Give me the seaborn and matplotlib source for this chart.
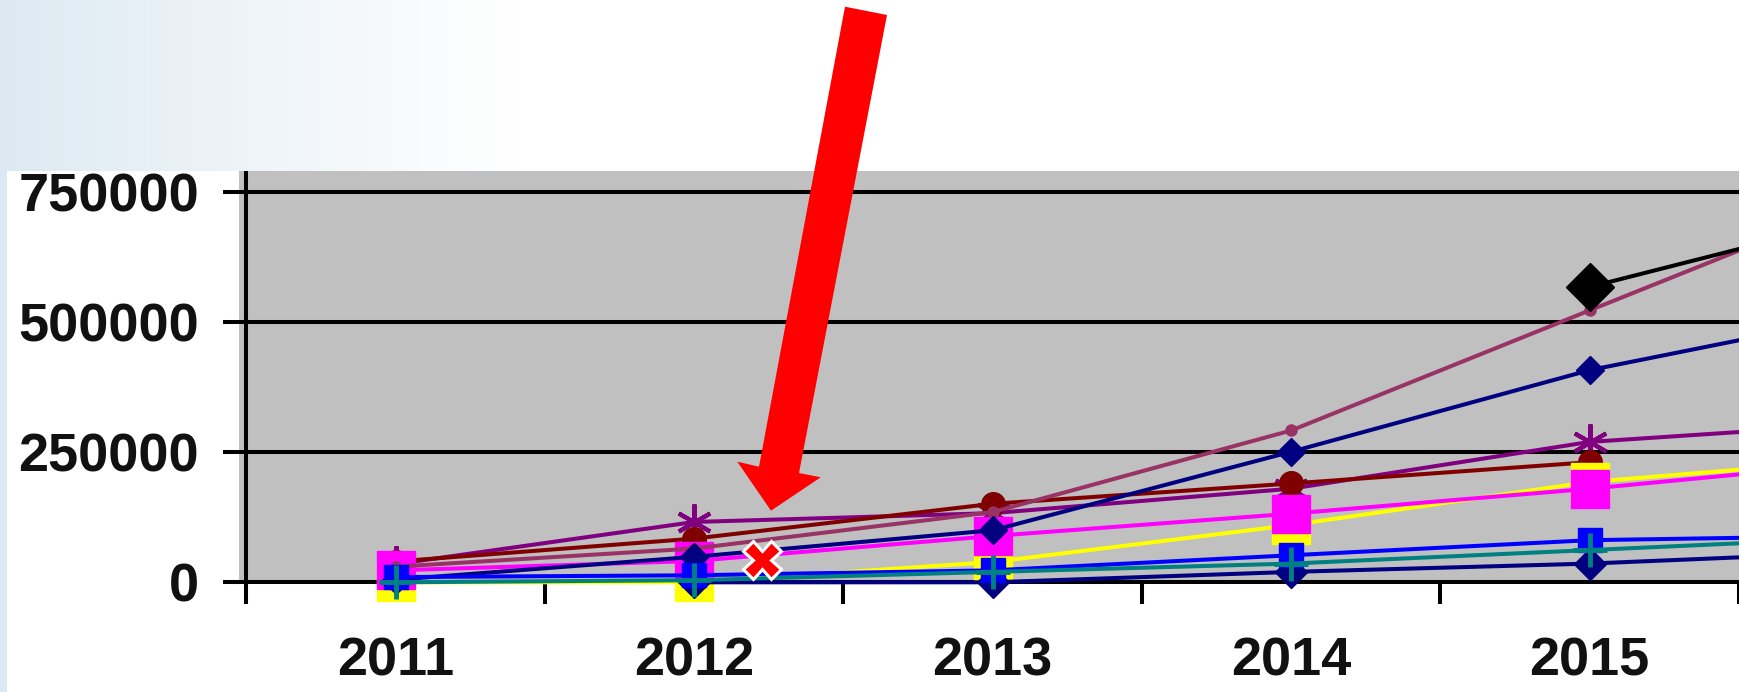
import numpy as np
import pandas as pd
import matplotlib
matplotlib.use("Agg")
import matplotlib.pyplot as plt
import seaborn as sns
from matplotlib.patches import Polygon, Rectangle
from matplotlib.lines import Line2D

nan = np.nan

# ---------------- data ----------------
years = [2011, 2012, 2013, 2014, 2015, 2016]
x_labels = ["2011", "2012", "2013", "2014", "2015"]
y_ticks = [0, 250000, 500000, 750000]
y_tick_labels = ["0", "250000", "500000", "750000"]

s_purple = [35000, 116000, 133000, 180000, 270000, 308000]
s_darkred = [40000, 84000, 151000, 190000, 231000, nan]
s_yellow = [0, 0, 39000, 110000, 193000, 240000]
s_magenta = [23000, 41000, 89000, 132000, 180000, 235000]
s_rose = [30000, 65000, 135000, 292000, 523000, 753000]
s_navy = [5000, 49000, 100000, 251000, 408000, 523000]
s_navy_low = [nan, 0, 0, 20000, 36000, 60000]
s_blue = [10000, 13500, 23000, 52000, 81000, 90000]
s_teal = [0, 4000, 20000, 36000, 62000, 88000]
s_black = [nan, nan, nan, nan, 568000, 714000]

# ---------------- figure ----------------
W, H = 1739, 692
sns.set_theme(style="white")
plt.rcParams["font.family"] = ["Liberation Sans", "DejaVu Sans"]

fig = plt.figure(figsize=(W / 100, H / 100), dpi=100)

# background: light-blue to white horizontal gradient, white chart panel
bg = fig.add_axes([0, 0, 1, 1], zorder=-10)
t = np.clip(np.arange(W) / 520.0, 0, 1) ** 0.9
c0 = np.array([220, 233, 242]) / 255.0
c1 = np.array([1.0, 1.0, 1.0])
img = c0[None, None, :] * (1 - t)[None, :, None] + c1[None, None, :] * t[None, :, None]
img = np.repeat(img, 4, axis=0)
bg.imshow(img, aspect="auto", extent=[0, 1, 0, 1])
bg.set_axis_off()
fig.add_artist(Rectangle((7 / W, 0), 1 - 7 / W, (H - 171) / H,
                         transform=fig.transFigure, facecolor="white",
                         edgecolor="none", zorder=-5))

# main axes
zero_px = 582.3
top_px = 171
left_px = 239
ax = fig.add_axes([left_px / W, (H - zero_px) / H, 1 - left_px / W, (zero_px - top_px) / H])
ax.set_facecolor("#c0c0c0")

cat_px = 303.7
axis_px = 246.5
xmin = 2010.5 - (axis_px - left_px) / cat_px
xmax = xmin + (W - left_px) / cat_px
ax.set_xlim(xmin, xmax)
ax.set_ylim(0, (zero_px - top_px) / 130.0 * 250000)

LW = 2.9
specs = [
    (s_purple, "#800080", (6, 2, 0), 26, 3),
    (s_darkred, "#800000", "o", 17, 1),
    (s_yellow, "#ffff00", "s", 28, 1),
    (s_magenta, "#ff00ff", "s", 28, 1),
    (s_rose, "#993366", "o", 8, 1),
    (s_navy, "#000080", "D", 14, 1),
    (s_navy_low, "#000080", "D", 16, 1),
    (s_blue, "#0000ff", "s", 17, 1),
    (s_teal, "#008080", "+", 24, 3.5),
    (s_black, "#000000", "D", 24, 1),
]
for i, (vals, col, mk, ms, mew) in enumerate(specs):
    sns.lineplot(x=years, y=vals, ax=ax, color=col, marker=mk, markersize=ms,
                 markeredgecolor=col, markeredgewidth=mew, linewidth=LW,
                 errorbar=None, legend=False, clip_on=False, zorder=4 + i * 0.1)

# grid / axes
FS = 39
ax.set_yticks(y_ticks)
ax.set_yticklabels(y_tick_labels)
ax.yaxis.grid(True, color="black", linewidth=2.9)
ax.xaxis.grid(False)
ax.tick_params(axis="y", which="major", direction="out", length=11.5, width=2.9,
               color="black", pad=17.3, left=True, labelsize=FS, labelcolor="#111111")

ax.set_xticks(years[:5])
ax.set_xticklabels(x_labels)
ax.set_xticks([y - 0.5 for y in years], minor=True)
ax.tick_params(axis="x", which="major", length=0, pad=39, labelsize=FS, labelcolor="#111111")
ax.tick_params(axis="x", which="minor", direction="out", length=15.8, width=2.9,
               color="black", bottom=True)
for lab in ax.get_xticklabels() + ax.get_yticklabels():
    lab.set_fontweight("bold")

for side in ["top", "right", "left"]:
    ax.spines[side].set_visible(False)
ax.spines["bottom"].set_color("black")
ax.spines["bottom"].set_linewidth(2.9)
ax.axvline(2010.5, color="black", linewidth=2.9, zorder=2.5)
ax.set_xlabel("")
ax.set_ylabel("")

# red arrow annotation
arrow_px = [(845, 6.7), (887, 15), (799, 473), (820.7, 477.3), (771, 510.7),
            (737.3, 461.7), (759, 466.7)]
fig.add_artist(Polygon([(x / W, 1 - y / H) for x, y in arrow_px], closed=True,
                       transform=fig.transFigure, facecolor="#ff0000",
                       edgecolor="none", zorder=20))
fig.add_artist(Line2D([761.7 / W], [1 - 560 / H], transform=fig.transFigure,
                      marker="X", markersize=27, markerfacecolor="#ff0000",
                      markeredgecolor="white", markeredgewidth=2.2,
                      linestyle="none", zorder=21))

fig.savefig("out.png", dpi=100)
